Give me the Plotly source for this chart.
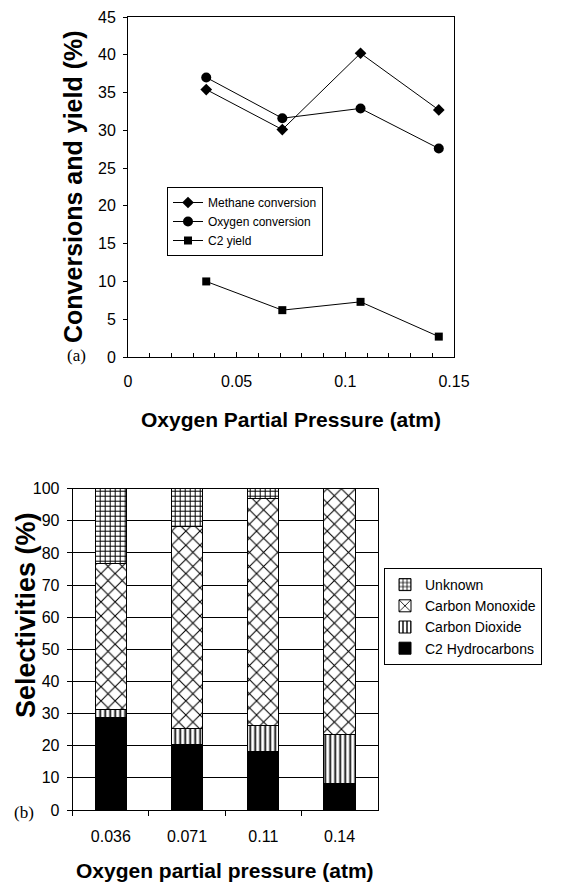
import plotly.graph_objects as go

# ---------------- Data ----------------
# Panel (a): conversions and yield vs oxygen partial pressure
pressure_a = [0.036, 0.071, 0.107, 0.143]
methane_conv = [35.4, 30.1, 40.2, 32.7]
oxygen_conv = [37.0, 31.6, 32.9, 27.6]
c2_yield = [10.0, 6.2, 7.3, 2.7]

# Panel (b): selectivities (stacked)
pressure_b = ["0.036", "0.071", "0.11", "0.14"]
sel_c2 = [28.8, 20.5, 18.2, 8.3]
sel_co2 = [2.5, 4.8, 8.2, 15.3]
sel_co = [45.5, 62.9, 70.7, 76.4]
sel_unknown = [23.2, 11.8, 2.9, 0.0]

W, H = 581, 882
FONT = "Liberation Sans, Arial, sans-serif"


def fx(p):
    return p / W


def fy(p):
    return 1 - p / H


fig = go.Figure()

# ---- panel (a) traces ----
line_style = dict(color="black", width=1)
fig.add_trace(go.Scatter(x=pressure_a, y=methane_conv, name="Methane conversion",
                         mode="lines+markers", line=line_style,
                         marker=dict(symbol="diamond", size=9, color="black"),
                         xaxis="x", yaxis="y", legend="legend"))
fig.add_trace(go.Scatter(x=pressure_a, y=oxygen_conv, name="Oxygen conversion",
                         mode="lines+markers", line=line_style,
                         marker=dict(symbol="circle", size=10, color="black"),
                         xaxis="x", yaxis="y", legend="legend"))
fig.add_trace(go.Scatter(x=pressure_a, y=c2_yield, name="C2 yield",
                         mode="lines+markers", line=line_style,
                         marker=dict(symbol="square", size=8, color="black"),
                         xaxis="x", yaxis="y", legend="legend"))

# ---- panel (b) traces ----
bar_line = dict(color="black", width=1)
fig.add_trace(go.Bar(x=pressure_b, y=sel_c2, name="C2 Hydrocarbons",
                     marker=dict(color="black", line=bar_line),
                     xaxis="x2", yaxis="y2", legend="legend2"))
fig.add_trace(go.Bar(x=pressure_b, y=sel_co2, name="Carbon Dioxide",
                     marker=dict(color="white", line=bar_line,
                                 pattern=dict(shape="|", fgcolor="black", bgcolor="white",
                                              size=5, solidity=0.35)),
                     xaxis="x2", yaxis="y2", legend="legend2"))
fig.add_trace(go.Bar(x=pressure_b, y=sel_co, name="Carbon Monoxide",
                     marker=dict(color="white", line=bar_line,
                                 pattern=dict(shape="x", fgcolor="black", bgcolor="white",
                                              size=10, solidity=0.2)),
                     xaxis="x2", yaxis="y2", legend="legend2"))
fig.add_trace(go.Bar(x=pressure_b, y=sel_unknown, name="Unknown",
                     marker=dict(color="white", line=bar_line,
                                 pattern=dict(shape="+", fgcolor="black", bgcolor="white",
                                              size=5, solidity=0.35)),
                     xaxis="x2", yaxis="y2", legend="legend2"))

axis_common = dict(showline=True, linecolor="black", linewidth=1, mirror=True,
                   zeroline=False, automargin=False,
                   tickfont=dict(family=FONT, size=16, color="black"),
                   tickcolor="black")

fig.update_layout(
    template="none",
    width=W, height=H,
    margin=dict(l=0, r=0, t=0, b=0),
    paper_bgcolor="white", plot_bgcolor="white",
    font=dict(family=FONT, color="black"),
    barmode="stack", bargap=0.59,
    xaxis=dict(domain=[fx(128), fx(454)], anchor="y", range=[0, 0.15],
               tickvals=[0, 0.05, 0.1, 0.15], ticktext=["0", "0.05", "0.1", "0.15"],
               ticks="inside", ticklen=5, showgrid=False, ticklabelstandoff=10,
               minor=dict(ticks="inside", dtick=0.01, ticklen=4, tickcolor="black", showgrid=False),
               **axis_common),
    yaxis=dict(domain=[fy(357), fy(17)], anchor="x", range=[0, 45], dtick=5,
               ticks="outside", ticklen=4, showgrid=False, ticklabelstandoff=4,
               **axis_common),
    xaxis2=dict(domain=[fx(72.7), fx(377.7)], anchor="y2", type="category",
                ticks="outside", ticklen=5, tickson="boundaries", showgrid=False,
                ticklabelstandoff=12, **axis_common),
    yaxis2=dict(domain=[fy(810), fy(488.7)], anchor="x2", range=[0, 100], dtick=10,
                ticks="outside", ticklen=5, showgrid=True, gridcolor="black", gridwidth=1,
                ticklabelstandoff=4, **axis_common),
    legend=dict(x=fx(167), y=fy(187), xanchor="left", yanchor="top",
                bgcolor="white", bordercolor="black", borderwidth=1,
                font=dict(family=FONT, size=12, color="black"),
                tracegroupgap=0),
    legend2=dict(x=fx(384), y=fy(568), xanchor="left", yanchor="top",
                 bgcolor="white", bordercolor="black", borderwidth=1,
                 traceorder="reversed",
                 font=dict(family=FONT, size=14, color="black")),
    showlegend=True,
)

title_font = dict(family=FONT, size=21, color="black", weight="bold")
fig.add_annotation(text="Oxygen Partial Pressure (atm)", x=fx(291), y=fy(419),
                   xref="paper", yref="paper", showarrow=False,
                   xanchor="center", yanchor="middle", font=title_font)
fig.add_annotation(text="Conversions and yield (%)", x=fx(73), y=fy(187),
                   xref="paper", yref="paper", showarrow=False, textangle=-90,
                   xanchor="center", yanchor="middle",
                   font=dict(family=FONT, size=25, color="black", weight="bold"))
fig.add_annotation(text="Oxygen partial pressure (atm)", x=fx(225), y=fy(870),
                   xref="paper", yref="paper", showarrow=False,
                   xanchor="center", yanchor="middle", font=title_font)
fig.add_annotation(text="Selectivities (%)", x=fx(26), y=fy(615),
                   xref="paper", yref="paper", showarrow=False, textangle=-90,
                   xanchor="center", yanchor="middle",
                   font=dict(family=FONT, size=27, color="black", weight="bold"))
panel_font = dict(family="Liberation Serif, Times New Roman, serif", size=17, color="black")
fig.add_annotation(text="(a)", x=fx(76), y=fy(356), xref="paper", yref="paper",
                   showarrow=False, xanchor="center", yanchor="middle", font=panel_font)
fig.add_annotation(text="(b)", x=fx(24), y=fy(812), xref="paper", yref="paper",
                   showarrow=False, xanchor="center", yanchor="middle", font=panel_font)

fig.write_html("out.html")
